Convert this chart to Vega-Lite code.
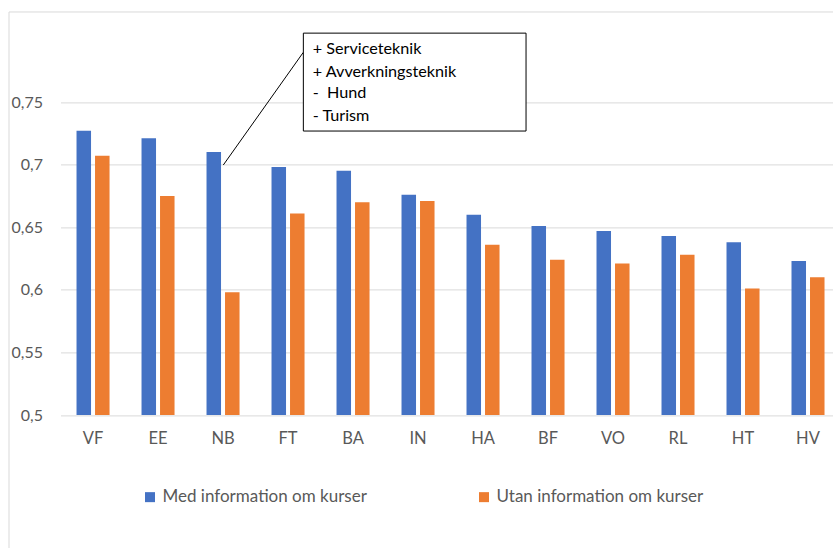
{
  "$schema": "https://vega.github.io/schema/vega-lite/v6.json",
  "width": 772.5,
  "height": 375.6,
  "autosize": {"type": "none"},
  "padding": {"left": 60.5, "top": 39.4, "right": 0, "bottom": 133},
  "background": "white",
  "config": {"view": {"stroke": null}, "font": "Lato"},
  "layer": [
    {
      "data": {"values": [
        {"kat": "VF", "serie": "Med information om kurser", "v": 0.727},
        {"kat": "VF", "serie": "Utan information om kurser", "v": 0.707},
        {"kat": "EE", "serie": "Med information om kurser", "v": 0.721},
        {"kat": "EE", "serie": "Utan information om kurser", "v": 0.675},
        {"kat": "NB", "serie": "Med information om kurser", "v": 0.710},
        {"kat": "NB", "serie": "Utan information om kurser", "v": 0.598},
        {"kat": "FT", "serie": "Med information om kurser", "v": 0.698},
        {"kat": "FT", "serie": "Utan information om kurser", "v": 0.661},
        {"kat": "BA", "serie": "Med information om kurser", "v": 0.695},
        {"kat": "BA", "serie": "Utan information om kurser", "v": 0.670},
        {"kat": "IN", "serie": "Med information om kurser", "v": 0.676},
        {"kat": "IN", "serie": "Utan information om kurser", "v": 0.671},
        {"kat": "HA", "serie": "Med information om kurser", "v": 0.660},
        {"kat": "HA", "serie": "Utan information om kurser", "v": 0.636},
        {"kat": "BF", "serie": "Med information om kurser", "v": 0.651},
        {"kat": "BF", "serie": "Utan information om kurser", "v": 0.624},
        {"kat": "VO", "serie": "Med information om kurser", "v": 0.647},
        {"kat": "VO", "serie": "Utan information om kurser", "v": 0.621},
        {"kat": "RL", "serie": "Med information om kurser", "v": 0.643},
        {"kat": "RL", "serie": "Utan information om kurser", "v": 0.628},
        {"kat": "HT", "serie": "Med information om kurser", "v": 0.638},
        {"kat": "HT", "serie": "Utan information om kurser", "v": 0.601},
        {"kat": "HV", "serie": "Med information om kurser", "v": 0.623},
        {"kat": "HV", "serie": "Utan information om kurser", "v": 0.610}
      ]},
      "mark": {"type": "bar"},
      "encoding": {
        "x": {"field": "kat", "type": "nominal", "sort": null,
          "scale": {"domain": ["VF","EE","NB","FT","BA","IN","HA","BF","VO","RL","HT","HV"], "paddingInner": 0.492, "paddingOuter": 0.1885, "align": 0.654, "round": false},
          "axis": {"title": null, "labelAngle": 0, "domain": false, "ticks": false, "tickSize": 0, "labelPadding": 15, "labelFontSize": 16.5, "labelColor": "#595959", "labelFont": "Lato"}},
        "xOffset": {"field": "serie", "type": "nominal", "sort": null,
          "scale": {"domain": ["Med information om kurser", "Utan information om kurser"], "paddingInner": 0.216, "paddingOuter": 0, "round": false}},
        "y": {"field": "v", "type": "quantitative",
          "scale": {"domain": [0.5, 0.8], "nice": false, "zero": false},
          "axis": {"title": null, "values": [0.5, 0.55, 0.6, 0.65, 0.7, 0.75], "grid": true, "gridColor": "#d9d9d9", "gridWidth": 1, "domain": false, "ticks": false, "tickSize": 0, "labelPadding": 18, "labelFontSize": 16, "labelColor": "#595959", "labelFont": "Lato", "labelExpr": "replace(toString(datum.value), '.', ',')"}},
        "y2": {"datum": 0.5},
        "color": {"field": "serie", "type": "nominal", "sort": null,
          "scale": {"domain": ["Med information om kurser", "Utan information om kurser"], "range": ["#4472C4", "#ED7D31"]},
          "legend": {"title": null, "orient": "none", "legendX": 81, "legendY": 449, "direction": "horizontal", "columns": 2, "columnPadding": 108, "labelLimit": 400, "symbolType": "square", "symbolSize": 100, "symbolStrokeWidth": 0, "labelOffset": 4, "labelFontSize": 17, "labelColor": "#595959", "labelFont": "Lato"}}
      }
    },
    {
      "data": {"values": [{"xa": "VF", "xb": "HV", "ya": 0.8219, "yb": 0.3}]},
      "mark": {"type": "rect", "fill": null, "stroke": "#d9d9d9", "strokeWidth": 1},
      "encoding": {
        "x": {"field": "xa", "type": "nominal", "bandPosition": -2.045},
        "x2": {"field": "xb", "bandPosition": 3},
        "y": {"field": "ya", "type": "quantitative"},
        "y2": {"field": "yb"}
      }
    },
    {
      "data": {"values": [{"xa": "FT", "xb": "NB", "ya": 0.7897, "yb": 0.6997}]},
      "mark": {"type": "rule", "stroke": "black", "strokeWidth": 1},
      "encoding": {
        "x": {"field": "xa", "type": "nominal", "bandPosition": 0.964},
        "x2": {"field": "xb", "bandPosition": 0.509},
        "y": {"field": "ya", "type": "quantitative"},
        "y2": {"field": "yb"}
      }
    },
    {
      "data": {"values": [{"xa": "FT", "xb": "HA", "ya": 0.805, "yb": 0.7268}]},
      "mark": {"type": "rect", "fill": "white", "stroke": "black", "strokeWidth": 1},
      "encoding": {
        "x": {"field": "xa", "type": "nominal", "bandPosition": 0.964},
        "x2": {"field": "xb", "bandPosition": 1.803},
        "y": {"field": "ya", "type": "quantitative"},
        "y2": {"field": "yb"}
      }
    },
    {
      "data": {"values": [
        {"xa": "FT", "ya": 0.792, "t": "+ Serviceteknik"},
        {"xa": "FT", "ya": 0.7742, "t": "+ Avverkningsteknik"},
        {"xa": "FT", "ya": 0.757, "t": "-\u00a0 Hund"},
        {"xa": "FT", "ya": 0.739, "t": "- Turism"}
      ]},
      "mark": {"type": "text", "align": "left", "baseline": "middle", "fontSize": 16.2, "font": "Lato", "color": "black"},
      "encoding": {
        "x": {"field": "xa", "type": "nominal", "bandPosition": 1.248},
        "y": {"field": "ya", "type": "quantitative"},
        "text": {"field": "t"}
      }
    }
  ]
}
